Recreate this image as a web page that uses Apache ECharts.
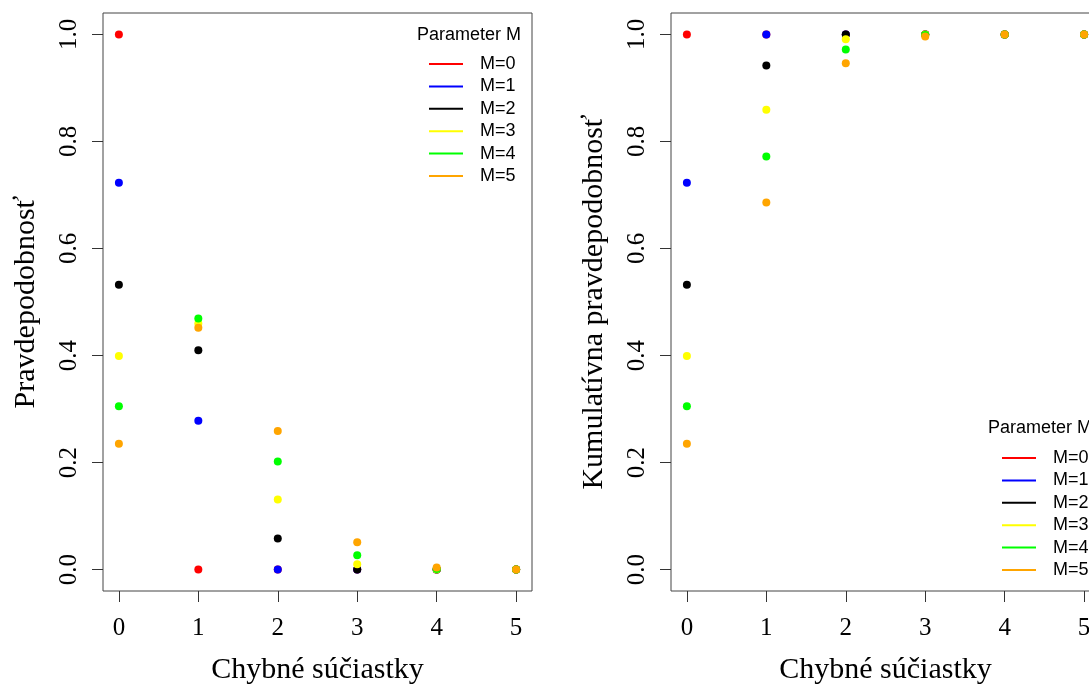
<!DOCTYPE html>
<html>
<head>
<meta charset="utf-8">
<script src="https://cdn.jsdelivr.net/npm/echarts@6/dist/echarts.min.js"></script>
<style>
  html, body { margin: 0; padding: 0; background: #fff; }
  #main { width: 1089px; height: 684px; }
</style>
</head>
<body>
<div id="main"></div>
<script>
// pocet chybnych suciastok (x os)
var counts = [0, 1, 2, 3, 4, 5];
var mNames = ['M=0', 'M=1', 'M=2', 'M=3', 'M=4', 'M=5'];
var yTicks = [0, 0.2, 0.4, 0.6, 0.8, 1.0];

// pravdepodobnost P(X = k), odcitane z obrazka
var pM0 = [1, 0, 0, 0, 0, 0];
var pM1 = [0.723, 0.278, 0, 0, 0, 0];
var pM2 = [0.532, 0.410, 0.058, 0, 0, 0];
var pM3 = [0.399, 0.460, 0.131, 0.010, 0, 0];
var pM4 = [0.305, 0.469, 0.202, 0.027, 0.001, 0];
var pM5 = [0.235, 0.452, 0.259, 0.051, 0.004, 0.0003];

// kumulativna pravdepodobnost P(X <= k)
var cM0 = [1, 1, 1, 1, 1, 1];
var cM1 = [0.723, 1, 1, 1, 1, 1];
var cM2 = [0.532, 0.942, 1, 1, 1, 1];
var cM3 = [0.399, 0.859, 0.991, 1, 1, 1];
var cM4 = [0.305, 0.772, 0.972, 0.999, 1, 1];
var cM5 = [0.235, 0.686, 0.946, 0.996, 1, 1];

var colors = ['#ff0000', '#0000ff', '#000000', '#ffff00', '#00ff00', '#ffa500'];

var probs = [pM0, pM1, pM2, pM3, pM4, pM5];
var cums = [cM0, cM1, cM2, cM3, cM4, cM5];

var serif = 'Liberation Serif';
var sans = 'Liberation Sans';

function makeX(idx) {
    return {
        type: 'value',
        gridIndex: idx,
        position: 'bottom',
        min: -0.2,
        max: 5.2,
        name: 'Chybné súčiastky',
        nameLocation: 'middle',
        nameGap: 64,
        nameTextStyle: { fontFamily: serif, fontSize: 30, color: '#000' },
        axisLine: { show: false, onZero: false },
        splitLine: { show: false },
        axisTick: {
            show: true, inside: false, length: 11,
            customValues: counts,
            lineStyle: { color: '#333', width: 1 }
        },
        axisLabel: {
            customValues: counts,
            margin: 25,
            fontFamily: serif, fontSize: 25, color: '#000'
        }
    };
}

function makeY(idx, title) {
    return {
        type: 'value',
        gridIndex: idx,
        position: 'left',
        min: -0.04,
        max: 1.04,
        name: title,
        nameLocation: 'middle',
        nameGap: 62,
        nameTextStyle: { fontFamily: serif, fontSize: 30, color: '#000' },
        axisLine: { show: false, onZero: false },
        splitLine: { show: false },
        axisTick: {
            show: true, inside: false, length: 11,
            customValues: yTicks,
            lineStyle: { color: '#333', width: 1 }
        },
        axisLabel: {
            customValues: yTicks,
            rotate: 90,
            margin: 21,
            fontFamily: serif, fontSize: 25, color: '#000',
            formatter: function (v) { return v.toFixed(1); }
        }
    };
}

var series = [];
[probs, cums].forEach(function (set, g) {
    set.forEach(function (vals, i) {
        series.push({
            name: mNames[i],
            type: 'scatter',
            xAxisIndex: g,
            yAxisIndex: g,
            symbol: 'circle',
            symbolSize: 8,
            itemStyle: { color: colors[i], opacity: 1 },
            data: counts.map(function (k, j) { return [k, vals[j]]; })
        });
    });
});

function makeLegend(left, top) {
    return {
        orient: 'vertical',
        left: left,
        top: top,
        padding: 0,
        data: mNames,
        icon: 'rect',
        itemWidth: 34,
        itemHeight: 2,
        itemGap: 0.4,
        selectedMode: false,
        textStyle: {
            fontFamily: sans, fontSize: 18, color: '#000',
            lineHeight: 22, padding: [0, 0, 0, 12]
        }
    };
}

var myChart = echarts.init(document.getElementById('main'), null, { renderer: 'canvas' });
var option = {
    backgroundColor: '#fff',
    animation: false,
    color: colors,
    grid: [
        { left: 103, top: 13, width: 429, height: 578, outerBoundsMode: 'none', containLabel: false, show: true, borderColor: '#444', borderWidth: 1, backgroundColor: 'transparent' },
        { left: 671, top: 13, width: 429, height: 578, outerBoundsMode: 'none', containLabel: false, show: true, borderColor: '#444', borderWidth: 1, backgroundColor: 'transparent' }
    ],
    xAxis: [makeX(0), makeX(1)],
    yAxis: [makeY(0, 'Pravdepodobnosť'), makeY(1, 'Kumulatívna pravdepodobnosť')],
    legend: [makeLegend(429, 53), makeLegend(1002, 447)],
    graphic: [
        { type: 'text', style: { x: 417, y: 35, text: 'Parameter M', verticalAlign: 'middle', font: '18px "Liberation Sans"', fill: '#000' } },
        { type: 'text', style: { x: 988, y: 428, text: 'Parameter M', verticalAlign: 'middle', font: '18px "Liberation Sans"', fill: '#000' } }
    ],
    series: series
};
myChart.setOption(option);
</script>
</body>
</html>
